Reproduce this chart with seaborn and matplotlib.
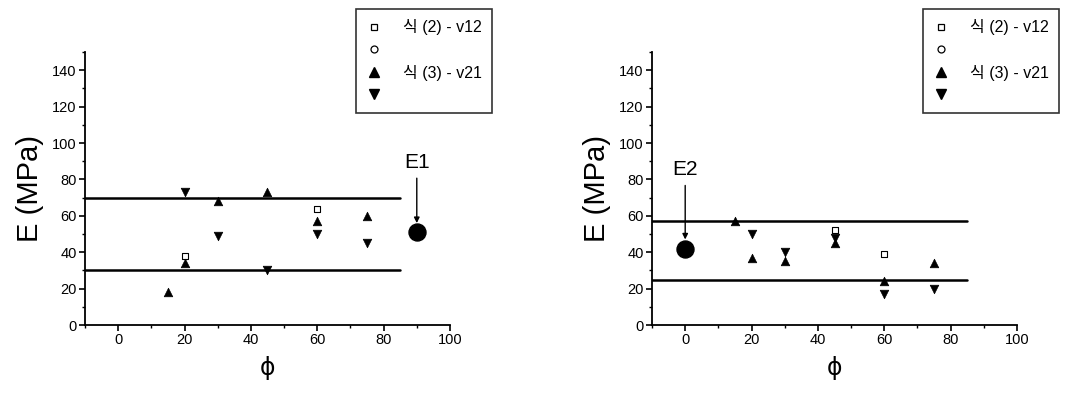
import numpy as np
import pandas as pd
import matplotlib
matplotlib.use("Agg")
import matplotlib.pyplot as plt
import seaborn as sns
from matplotlib.lines import Line2D
from matplotlib.ticker import MultipleLocator

sns.set_theme(style="ticks")
plt.rcParams['font.family'] = ['Liberation Sans', 'Noto Sans CJK KR', 'DejaVu Sans']
plt.rcParams.update({"text.color": "black", "axes.labelcolor": "black",
                     "xtick.color": "black", "ytick.color": "black"})

# ---- data: left panel (E1) ----
L_sq_x = [20, 60]
L_sq_y = [38, 64]
L_up_x = [15, 20, 30, 45, 60, 75]
L_up_y = [18, 34, 68, 73, 57, 60]
L_dn_x = [20, 30, 45, 60, 75]
L_dn_y = [73, 49, 30, 50, 45]
L_bounds = [70, 30]
L_E_x, L_E_y = [90], [51]
L_label = "E1"

# ---- data: right panel (E2) ----
R_sq_x = [45, 60]
R_sq_y = [52, 39]
R_up_x = [15, 20, 30, 45, 60, 75]
R_up_y = [57, 37, 35, 45, 24, 34]
R_dn_x = [20, 30, 45, 60, 75]
R_dn_y = [50, 40, 48, 17, 20]
R_bounds = [57, 25]
R_E_x, R_E_y = [0], [42]
R_label = "E2"

line_x = [-10, 85]
legend_labels = ["식 (2) - v12", "", "식 (3) - v21", ""]

fig = plt.figure(figsize=(10.77, 3.98), dpi=100)
axL = fig.add_axes([0.0789, 0.1834, 0.3389, 0.6859])
axR = fig.add_axes([0.6054, 0.1834, 0.3389, 0.6859])


def draw(ax, sqx, sqy, upx, upy, dnx, dny, bounds, ex, ey, lab, text_y, arrow_end):
    for b in bounds:
        sns.lineplot(x=line_x, y=[b, b], ax=ax, color="black", lw=1.8)
    sns.scatterplot(x=sqx, y=sqy, ax=ax, marker="s", s=20, facecolor="white",
                    edgecolor="black", linewidth=0.8, zorder=3)
    sns.scatterplot(x=upx, y=upy, ax=ax, marker="^", s=38, color="black",
                    edgecolor="black", zorder=3)
    sns.scatterplot(x=dnx, y=dny, ax=ax, marker="v", s=38, color="black",
                    edgecolor="black", zorder=3)
    sns.scatterplot(x=ex, y=ey, ax=ax, marker="o", s=150, color="black",
                    edgecolor="black", zorder=4)
    ax.annotate(lab, xy=(ex[0], arrow_end), xytext=(ex[0], text_y),
                ha="center", va="bottom", fontsize=15,
                arrowprops=dict(arrowstyle="-|>", color="black", lw=1.0,
                                mutation_scale=8, shrinkA=2, shrinkB=0))
    ax.set_xlim(-10, 100)
    ax.set_ylim(0, 150)
    ax.xaxis.set_major_locator(MultipleLocator(20))
    ax.xaxis.set_minor_locator(MultipleLocator(10))
    ax.yaxis.set_major_locator(MultipleLocator(20))
    ax.yaxis.set_minor_locator(MultipleLocator(10))
    ax.set_yticks(np.arange(0, 141, 20))
    ax.tick_params(axis="both", which="major", direction="out", length=4,
                   width=1.2, labelsize=10.5, color="black", pad=2)
    ax.tick_params(axis="both", which="minor", direction="out", length=2,
                   width=1.0, color="black")
    for s in ["top", "right"]:
        ax.spines[s].set_visible(False)
    for s in ["left", "bottom"]:
        ax.spines[s].set_linewidth(1.3)
        ax.spines[s].set_color("black")
    ax.set_xlabel("ϕ", fontsize=17, labelpad=6, family=['DejaVu Sans'])
    ax.set_ylabel("E (MPa)", fontsize=21, labelpad=6)
    ax.set_facecolor("white")


draw(axL, L_sq_x, L_sq_y, L_up_x, L_up_y, L_dn_x, L_dn_y, L_bounds,
     L_E_x, L_E_y, L_label, 84, 56)
draw(axR, R_sq_x, R_sq_y, R_up_x, R_up_y, R_dn_x, R_dn_y, R_bounds,
     R_E_x, R_E_y, R_label, 80, 47)

handles = [
    Line2D([], [], marker="s", ls="", mfc="white", mec="black", ms=5, mew=0.9),
    Line2D([], [], marker="o", ls="", mfc="white", mec="black", ms=5, mew=0.9),
    Line2D([], [], marker="^", ls="", mfc="black", mec="black", ms=7),
    Line2D([], [], marker="v", ls="", mfc="black", mec="black", ms=7),
]
for x0 in (0.3305, 0.857):
    leg = fig.legend(handles, legend_labels, loc="upper left",
                     bbox_to_anchor=(x0, 1 - 9 / 398), borderaxespad=0,
                     frameon=True, fancybox=False, edgecolor="black",
                     handlelength=1.0, handletextpad=1.3,
                     labelspacing=0.45, borderpad=0.65,
                     prop={'family': ['Liberation Sans', 'Noto Sans CJK KR'], 'size': 11.5})
    leg.get_frame().set_linewidth(1.2)
    for t in leg.get_texts():
        t.set_color("black")

fig.savefig("out.png", dpi=100, facecolor="white")
